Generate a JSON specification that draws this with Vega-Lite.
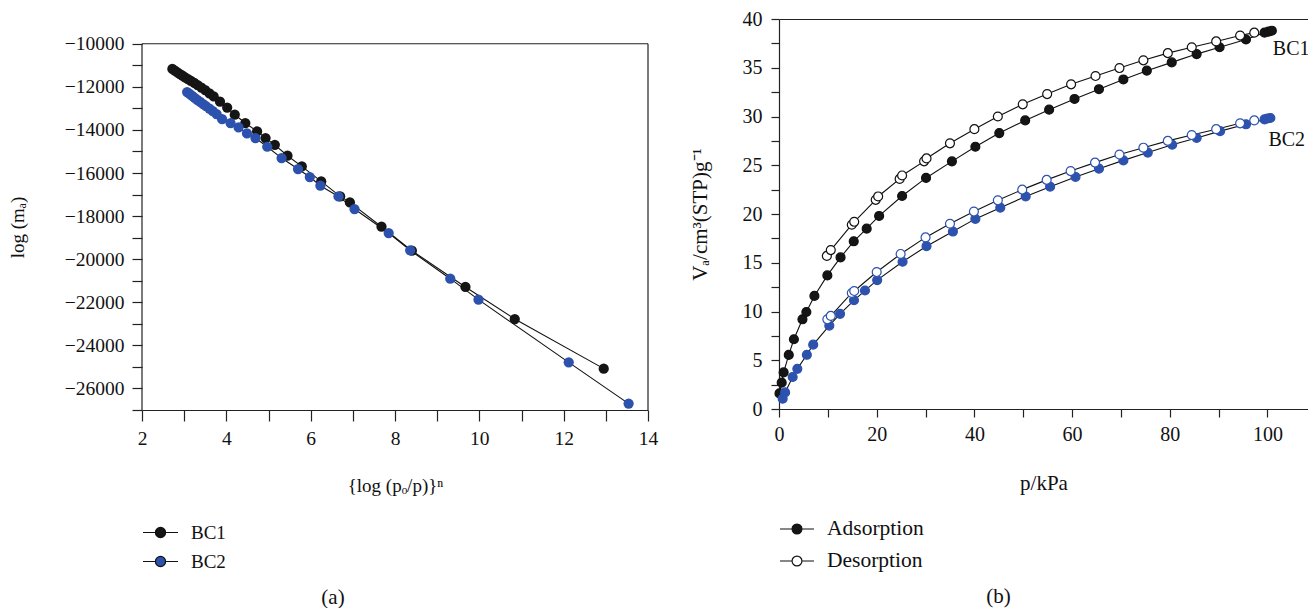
{
  "$schema": "https://vega.github.io/schema/vega-lite/v6.json",
  "padding": {"left": 8, "top": 9, "right": 0, "bottom": 0},
  "spacing": 31,
  "resolve": {"scale": {"color": "independent", "fill": "independent"}, "legend": {"color": "independent", "fill": "independent"}},
  "config": {
    "font": "Liberation Serif",
    "view": {"stroke": null},
    "axis": {
      "labelFont": "Liberation Serif", "labelFontSize": 19.5, "labelColor": "#111",
      "titleFont": "Liberation Serif", "titleFontSize": 19, "titleFontWeight": "normal", "titleColor": "#111",
      "domainColor": "#222", "tickColor": "#222", "domainWidth": 1.2, "tickWidth": 1.2,
      "grid": false, "labelFlush": false, "labelOverlap": false
    },
    "legend": {
      "labelFont": "Liberation Serif", "labelFontSize": 19, "labelColor": "#111"
    },
    "title": {"font": "Liberation Serif", "fontSize": 21, "fontWeight": "normal", "color": "#111"}
  },
  "datasets": {
    "left": [
      {"series": "BC1", "lx": 2.72, "logma": -11170},
      {"series": "BC1", "lx": 2.78, "logma": -11250},
      {"series": "BC1", "lx": 2.84, "logma": -11330},
      {"series": "BC1", "lx": 2.90, "logma": -11405},
      {"series": "BC1", "lx": 2.96, "logma": -11480},
      {"series": "BC1", "lx": 3.02, "logma": -11555},
      {"series": "BC1", "lx": 3.09, "logma": -11640},
      {"series": "BC1", "lx": 3.16, "logma": -11725},
      {"series": "BC1", "lx": 3.24, "logma": -11820},
      {"series": "BC1", "lx": 3.32, "logma": -11920},
      {"series": "BC1", "lx": 3.41, "logma": -12030},
      {"series": "BC1", "lx": 3.50, "logma": -12150},
      {"series": "BC1", "lx": 3.60, "logma": -12300},
      {"series": "BC1", "lx": 3.70, "logma": -12445},
      {"series": "BC1", "lx": 3.85, "logma": -12690},
      {"series": "BC1", "lx": 4.02, "logma": -12960},
      {"series": "BC1", "lx": 4.20, "logma": -13294},
      {"series": "BC1", "lx": 4.45, "logma": -13680},
      {"series": "BC1", "lx": 4.73, "logma": -14069},
      {"series": "BC1", "lx": 4.93, "logma": -14378},
      {"series": "BC1", "lx": 5.15, "logma": -14690},
      {"series": "BC1", "lx": 5.45, "logma": -15197},
      {"series": "BC1", "lx": 5.79, "logma": -15693},
      {"series": "BC1", "lx": 6.25, "logma": -16389},
      {"series": "BC1", "lx": 6.70, "logma": -17085},
      {"series": "BC1", "lx": 6.93, "logma": -17363},
      {"series": "BC1", "lx": 7.68, "logma": -18491},
      {"series": "BC1", "lx": 8.40, "logma": -19605},
      {"series": "BC1", "lx": 9.67, "logma": -21290},
      {"series": "BC1", "lx": 10.84, "logma": -22776},
      {"series": "BC1", "lx": 12.95, "logma": -25080},
      {"series": "BC2", "lx": 3.07, "logma": -12241},
      {"series": "BC2", "lx": 3.13, "logma": -12330},
      {"series": "BC2", "lx": 3.19, "logma": -12420},
      {"series": "BC2", "lx": 3.25, "logma": -12510},
      {"series": "BC2", "lx": 3.31, "logma": -12600},
      {"series": "BC2", "lx": 3.38, "logma": -12700},
      {"series": "BC2", "lx": 3.45, "logma": -12800},
      {"series": "BC2", "lx": 3.52, "logma": -12900},
      {"series": "BC2", "lx": 3.60, "logma": -13010},
      {"series": "BC2", "lx": 3.68, "logma": -13130},
      {"series": "BC2", "lx": 3.77, "logma": -13260},
      {"series": "BC2", "lx": 3.90, "logma": -13500},
      {"series": "BC2", "lx": 4.10, "logma": -13680},
      {"series": "BC2", "lx": 4.29, "logma": -13884},
      {"series": "BC2", "lx": 4.49, "logma": -14160},
      {"series": "BC2", "lx": 4.69, "logma": -14376},
      {"series": "BC2", "lx": 4.97, "logma": -14780},
      {"series": "BC2", "lx": 5.31, "logma": -15305},
      {"series": "BC2", "lx": 5.70, "logma": -15815},
      {"series": "BC2", "lx": 5.98, "logma": -16186},
      {"series": "BC2", "lx": 6.23, "logma": -16589},
      {"series": "BC2", "lx": 6.66, "logma": -17085},
      {"series": "BC2", "lx": 7.04, "logma": -17670},
      {"series": "BC2", "lx": 7.85, "logma": -18784},
      {"series": "BC2", "lx": 8.36, "logma": -19590},
      {"series": "BC2", "lx": 9.31, "logma": -20904},
      {"series": "BC2", "lx": 9.98, "logma": -21878},
      {"series": "BC2", "lx": 12.12, "logma": -24788},
      {"series": "BC2", "lx": 13.54, "logma": -26704}
    ],
    "right": [
      {"series": "BC1", "type": "Adsorption", "p": 0.1, "V": 1.6},
      {"series": "BC1", "type": "Adsorption", "p": 0.55, "V": 2.7},
      {"series": "BC1", "type": "Adsorption", "p": 0.95, "V": 3.75},
      {"series": "BC1", "type": "Adsorption", "p": 2.0, "V": 5.55},
      {"series": "BC1", "type": "Adsorption", "p": 3.05, "V": 7.15},
      {"series": "BC1", "type": "Adsorption", "p": 4.8, "V": 9.2},
      {"series": "BC1", "type": "Adsorption", "p": 5.6, "V": 9.95},
      {"series": "BC1", "type": "Adsorption", "p": 7.25, "V": 11.6},
      {"series": "BC1", "type": "Adsorption", "p": 9.9, "V": 13.7},
      {"series": "BC1", "type": "Adsorption", "p": 12.6, "V": 15.55},
      {"series": "BC1", "type": "Adsorption", "p": 15.3, "V": 17.2},
      {"series": "BC1", "type": "Adsorption", "p": 17.95, "V": 18.5},
      {"series": "BC1", "type": "Adsorption", "p": 20.5, "V": 19.8},
      {"series": "BC1", "type": "Adsorption", "p": 25.2, "V": 21.85},
      {"series": "BC1", "type": "Adsorption", "p": 30.1, "V": 23.7},
      {"series": "BC1", "type": "Adsorption", "p": 35.4, "V": 25.4},
      {"series": "BC1", "type": "Adsorption", "p": 40.2, "V": 26.9},
      {"series": "BC1", "type": "Adsorption", "p": 45.1, "V": 28.3},
      {"series": "BC1", "type": "Adsorption", "p": 50.4, "V": 29.6},
      {"series": "BC1", "type": "Adsorption", "p": 55.3, "V": 30.7},
      {"series": "BC1", "type": "Adsorption", "p": 60.5, "V": 31.8},
      {"series": "BC1", "type": "Adsorption", "p": 65.5, "V": 32.8},
      {"series": "BC1", "type": "Adsorption", "p": 70.5, "V": 33.8},
      {"series": "BC1", "type": "Adsorption", "p": 75.3, "V": 34.7},
      {"series": "BC1", "type": "Adsorption", "p": 80.4, "V": 35.55},
      {"series": "BC1", "type": "Adsorption", "p": 85.5, "V": 36.4},
      {"series": "BC1", "type": "Adsorption", "p": 90.2, "V": 37.1},
      {"series": "BC1", "type": "Adsorption", "p": 95.6, "V": 37.9},
      {"series": "BC1", "type": "Adsorption", "p": 99.4, "V": 38.6},
      {"series": "BC1", "type": "Adsorption", "p": 100.2, "V": 38.7},
      {"series": "BC1", "type": "Adsorption", "p": 100.9, "V": 38.8},
      {"series": "BC1", "type": "Desorption", "p": 9.8, "V": 15.7},
      {"series": "BC1", "type": "Desorption", "p": 10.6, "V": 16.3},
      {"series": "BC1", "type": "Desorption", "p": 14.9, "V": 18.9},
      {"series": "BC1", "type": "Desorption", "p": 15.4, "V": 19.2},
      {"series": "BC1", "type": "Desorption", "p": 19.8, "V": 21.45},
      {"series": "BC1", "type": "Desorption", "p": 20.3, "V": 21.8},
      {"series": "BC1", "type": "Desorption", "p": 24.7, "V": 23.6},
      {"series": "BC1", "type": "Desorption", "p": 25.2, "V": 23.95},
      {"series": "BC1", "type": "Desorption", "p": 29.7, "V": 25.4},
      {"series": "BC1", "type": "Desorption", "p": 30.2, "V": 25.7},
      {"series": "BC1", "type": "Desorption", "p": 35.0, "V": 27.25},
      {"series": "BC1", "type": "Desorption", "p": 40.0, "V": 28.7},
      {"series": "BC1", "type": "Desorption", "p": 44.8, "V": 30.0},
      {"series": "BC1", "type": "Desorption", "p": 49.9, "V": 31.25},
      {"series": "BC1", "type": "Desorption", "p": 54.9, "V": 32.3},
      {"series": "BC1", "type": "Desorption", "p": 59.8, "V": 33.3},
      {"series": "BC1", "type": "Desorption", "p": 64.8, "V": 34.15},
      {"series": "BC1", "type": "Desorption", "p": 69.7, "V": 34.97},
      {"series": "BC1", "type": "Desorption", "p": 74.6, "V": 35.76},
      {"series": "BC1", "type": "Desorption", "p": 79.6, "V": 36.5},
      {"series": "BC1", "type": "Desorption", "p": 84.5, "V": 37.1},
      {"series": "BC1", "type": "Desorption", "p": 89.5, "V": 37.7},
      {"series": "BC1", "type": "Desorption", "p": 94.4, "V": 38.3},
      {"series": "BC1", "type": "Desorption", "p": 97.3, "V": 38.6},
      {"series": "BC2", "type": "Adsorption", "p": 0.75, "V": 1.05},
      {"series": "BC2", "type": "Adsorption", "p": 1.25, "V": 1.7},
      {"series": "BC2", "type": "Adsorption", "p": 2.8, "V": 3.28},
      {"series": "BC2", "type": "Adsorption", "p": 3.75, "V": 4.12},
      {"series": "BC2", "type": "Adsorption", "p": 5.7, "V": 5.56},
      {"series": "BC2", "type": "Adsorption", "p": 7.0, "V": 6.6},
      {"series": "BC2", "type": "Adsorption", "p": 10.3, "V": 8.55},
      {"series": "BC2", "type": "Adsorption", "p": 12.5, "V": 9.76},
      {"series": "BC2", "type": "Adsorption", "p": 15.35, "V": 11.15},
      {"series": "BC2", "type": "Adsorption", "p": 17.6, "V": 12.15},
      {"series": "BC2", "type": "Adsorption", "p": 20.1, "V": 13.22},
      {"series": "BC2", "type": "Adsorption", "p": 25.3, "V": 15.1},
      {"series": "BC2", "type": "Adsorption", "p": 30.2, "V": 16.7},
      {"series": "BC2", "type": "Adsorption", "p": 35.6, "V": 18.2},
      {"series": "BC2", "type": "Adsorption", "p": 40.2, "V": 19.5},
      {"series": "BC2", "type": "Adsorption", "p": 45.3, "V": 20.65},
      {"series": "BC2", "type": "Adsorption", "p": 50.5, "V": 21.8},
      {"series": "BC2", "type": "Adsorption", "p": 55.5, "V": 22.8},
      {"series": "BC2", "type": "Adsorption", "p": 60.7, "V": 23.8},
      {"series": "BC2", "type": "Adsorption", "p": 65.5, "V": 24.65},
      {"series": "BC2", "type": "Adsorption", "p": 70.5, "V": 25.5},
      {"series": "BC2", "type": "Adsorption", "p": 75.5, "V": 26.3},
      {"series": "BC2", "type": "Adsorption", "p": 80.5, "V": 27.1},
      {"series": "BC2", "type": "Adsorption", "p": 85.5, "V": 27.8},
      {"series": "BC2", "type": "Adsorption", "p": 90.3, "V": 28.5},
      {"series": "BC2", "type": "Adsorption", "p": 95.6, "V": 29.2},
      {"series": "BC2", "type": "Adsorption", "p": 99.4, "V": 29.7},
      {"series": "BC2", "type": "Adsorption", "p": 100.0, "V": 29.8},
      {"series": "BC2", "type": "Adsorption", "p": 100.6, "V": 29.85},
      {"series": "BC2", "type": "Desorption", "p": 9.9, "V": 9.2},
      {"series": "BC2", "type": "Desorption", "p": 10.6, "V": 9.55},
      {"series": "BC2", "type": "Desorption", "p": 14.9, "V": 11.9},
      {"series": "BC2", "type": "Desorption", "p": 15.4, "V": 12.1},
      {"series": "BC2", "type": "Desorption", "p": 20.0, "V": 14.05},
      {"series": "BC2", "type": "Desorption", "p": 24.9, "V": 15.9},
      {"series": "BC2", "type": "Desorption", "p": 30.0, "V": 17.6},
      {"series": "BC2", "type": "Desorption", "p": 35.0, "V": 19.0},
      {"series": "BC2", "type": "Desorption", "p": 39.9, "V": 20.25},
      {"series": "BC2", "type": "Desorption", "p": 44.8, "V": 21.4},
      {"series": "BC2", "type": "Desorption", "p": 49.8, "V": 22.5},
      {"series": "BC2", "type": "Desorption", "p": 54.8, "V": 23.5},
      {"series": "BC2", "type": "Desorption", "p": 59.7, "V": 24.4},
      {"series": "BC2", "type": "Desorption", "p": 64.7, "V": 25.27},
      {"series": "BC2", "type": "Desorption", "p": 69.7, "V": 26.1},
      {"series": "BC2", "type": "Desorption", "p": 74.6, "V": 26.8},
      {"series": "BC2", "type": "Desorption", "p": 79.6, "V": 27.5},
      {"series": "BC2", "type": "Desorption", "p": 84.5, "V": 28.1},
      {"series": "BC2", "type": "Desorption", "p": 89.5, "V": 28.7},
      {"series": "BC2", "type": "Desorption", "p": 94.4, "V": 29.3},
      {"series": "BC2", "type": "Desorption", "p": 97.3, "V": 29.6}
    ],
    "labels": [
      {"label": "BC1", "p": 101.1, "V": 36.9},
      {"label": "BC2", "p": 100.2, "V": 27.6}
    ]
  },
  "hconcat": [
    {
      "width": 506,
      "height": 391,
      "data": {"name": "left"},
      "title": {"text": "(a)", "orient": "bottom", "anchor": "middle", "frame": "bounds", "offset": 15},
      "layer": [
        {
          "mark": {"type": "line", "color": "#111", "strokeWidth": 1.1},
          "encoding": {
            "x": {
              "field": "lx", "type": "quantitative",
              "scale": {"domain": [2, 14], "nice": false, "zero": false},
              "axis": {
                "title": "{log (pₒ/p)}ⁿ",
                "values": [2, 3, 4, 5, 6, 7, 8, 9, 10, 11, 12, 13, 14],
                "labelExpr": "datum.value % 2 === 0 ? datum.label : ''",
                "tickSize": 11, "labelPadding": 8, "titlePadding": 28.5,
                "encode": {"ticks": {"update": {"y2": {"signal": "datum.value % 2 === 0 ? 11 : 6"}}}}
              }
            },
            "y": {
              "field": "logma", "type": "quantitative",
              "scale": {"domain": [-27000, -8850], "nice": false, "zero": false},
              "axis": {
                "title": "log (mₐ)", "format": "d", "domain": false,
                "values": [-27000, -26000, -25000, -24000, -23000, -22000, -21000, -20000, -19000, -18000, -17000, -16000, -15000, -14000, -13000, -12000, -11000, -10000],
                "labelExpr": "datum.value % 2000 === 0 ? datum.label : ''",
                "tickSize": 10, "labelPadding": 8, "titlePadding": 37, "titleY": 208,
                "encode": {"ticks": {"update": {"x2": {"signal": "datum.value % 2000 === 0 ? -10 : -5"}}}}
              }
            },
            "detail": {"field": "series", "type": "nominal"}
          }
        },
        {
          "mark": {"type": "circle", "size": 105, "opacity": 1},
          "encoding": {
            "x": {"field": "lx", "type": "quantitative", "axis": null},
            "y": {"field": "logma", "type": "quantitative", "axis": null},
            "color": {
              "field": "series", "type": "nominal",
              "scale": {"domain": ["BC1", "BC2"], "range": ["#151515", "#2D52AE"]},
              "legend": {
                "orient": "bottom", "direction": "vertical", "offset": 19, "title": null,
                "symbolType": "M-1,0L-0.29,0M0.29,0L1,0M-0.29,0A0.29,0.29,0,1,1,0.29,0A0.29,0.29,0,1,1,-0.29,0Z",
                "symbolSize": 1225, "symbolStrokeColor": "#111", "symbolStrokeWidth": 1.2, "symbolOpacity": 1,
                "labelOffset": 12, "rowPadding": -2
              }
            }
          }
        },
        {
          "data": {"values": [{}]},
          "mark": {"type": "rule", "color": "#222", "strokeWidth": 1.2},
          "encoding": {
            "x": {"datum": 2, "type": "quantitative", "axis": null},
            "x2": {"datum": 14},
            "y": {"datum": -10000, "type": "quantitative", "axis": null}
          }
        },
        {
          "data": {"values": [{}]},
          "mark": {"type": "rule", "color": "#222", "strokeWidth": 1.2},
          "encoding": {
            "x": {"datum": 2, "type": "quantitative", "axis": null},
            "y": {"datum": -27000, "type": "quantitative", "axis": null},
            "y2": {"datum": -10000}
          }
        },
        {
          "data": {"values": [{}]},
          "mark": {"type": "rule", "color": "#222", "strokeWidth": 1.2},
          "encoding": {
            "x": {"datum": 14, "type": "quantitative", "axis": null},
            "y": {"datum": -27000, "type": "quantitative", "axis": null},
            "y2": {"datum": -10000}
          }
        }
      ],
      "resolve": {"axis": {"x": "independent", "y": "independent"}}
    },
    {
      "width": 529,
      "height": 390,
      "data": {"name": "right"},
      "title": {"text": "(b)", "orient": "bottom", "anchor": "middle", "frame": "bounds", "offset": 14},
      "encoding": {
        "y": {
          "field": "V", "type": "quantitative",
          "scale": {"domain": [0, 40], "nice": false, "zero": false},
          "axis": {
            "title": "Vₐ/cm³(STP)g⁻¹", "titleFontSize": 21, "labelFontSize": 20,
            "values": [0, 2.5, 5, 7.5, 10, 12.5, 15, 17.5, 20, 22.5, 25, 27.5, 30, 32.5, 35, 37.5, 40],
            "labelExpr": "datum.value % 5 === 0 ? datum.label : ''",
            "tickSize": 8, "labelPadding": 9, "titlePadding": 32,
            "encode": {"ticks": {"update": {"x2": {"signal": "datum.value % 5 === 0 ? -8 : -4"}}}}
          }
        }
      },
      "layer": [
        {
          "mark": {"type": "line", "color": "#111", "strokeWidth": 1.1},
          "encoding": {
            "x": {
              "field": "p", "type": "quantitative",
              "scale": {"domain": [0, 108.3], "nice": false, "zero": false},
              "axis": {
                "title": "p/kPa", "titleFontSize": 21, "labelFontSize": 20,
                "values": [0, 10, 20, 30, 40, 50, 60, 70, 80, 90, 100],
                "labelExpr": "datum.value % 20 === 0 ? datum.label : ''",
                "tickSize": 8, "labelPadding": 7, "titlePadding": 28,
                "encode": {"ticks": {"update": {"y2": {"signal": "datum.value % 20 === 0 ? 8 : 4"}}}}
              }
            },
            "detail": [{"field": "series", "type": "nominal"}, {"field": "type", "type": "nominal"}]
          }
        },
        {
          "transform": [{"filter": "datum.series === 'BC1'"}],
          "mark": {"type": "circle", "size": 80, "opacity": 1, "stroke": "#111", "strokeWidth": 1.2},
          "encoding": {
            "x": {
              "field": "p", "type": "quantitative",
              "axis": {"orient": "top", "domain": true, "ticks": false, "labels": false, "title": null}
            },
            "fill": {
              "field": "type", "type": "nominal",
              "scale": {"domain": ["Adsorption", "Desorption"], "range": ["#151515", "#ffffff"]},
              "legend": {
                "orient": "bottom", "direction": "vertical", "offset": 18, "title": null,
                "symbolType": "M-1,0L-0.29,0M0.29,0L1,0M-0.29,0A0.29,0.29,0,1,1,0.29,0A0.29,0.29,0,1,1,-0.29,0Z",
                "symbolSize": 1156, "symbolStrokeColor": "#111", "symbolStrokeWidth": 1.2, "symbolOpacity": 1,
                "labelOffset": 12, "rowPadding": 3, "labelFontSize": 21.5
              }
            }
          }
        },
        {
          "transform": [{"filter": "datum.series === 'BC2'"}],
          "mark": {"type": "circle", "size": 80, "opacity": 1, "stroke": "#2D52AE", "strokeWidth": 1.2},
          "encoding": {
            "x": {"field": "p", "type": "quantitative", "axis": null},
            "fill": {
              "field": "type", "type": "nominal",
              "scale": {"domain": ["Adsorption", "Desorption"], "range": ["#2D52AE", "#ffffff"]},
              "legend": null
            }
          }
        },
        {
          "data": {"name": "labels"},
          "mark": {"type": "text", "align": "left", "baseline": "middle", "font": "Liberation Serif", "fontSize": 20, "color": "#111", "clip": true},
          "encoding": {
            "x": {"field": "p", "type": "quantitative", "axis": null},
            "text": {"field": "label", "type": "nominal"}
          }
        }
      ],
      "resolve": {"axis": {"x": "independent"}, "scale": {"fill": "independent"}}
    }
  ]
}
